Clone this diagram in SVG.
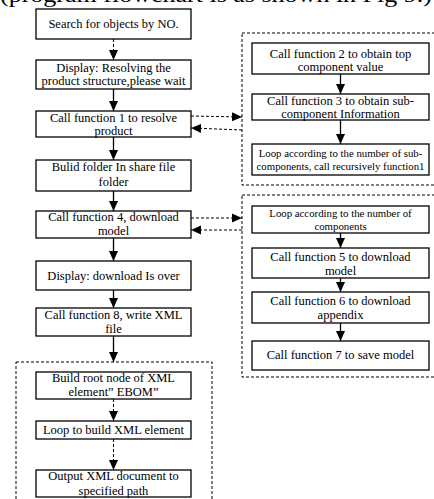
<svg xmlns="http://www.w3.org/2000/svg" width="434" height="499" viewBox="0 0 434 499">
  <defs>
    <style>
      .box { fill: #fff; stroke: #000; stroke-width: 1.3; }
      .grp { fill: none; stroke: #000; stroke-width: 1; stroke-dasharray: 3 2; }
      .lnk { fill: none; stroke: #000; stroke-width: 1.3; }
      .dsh { fill: none; stroke: #000; stroke-width: 1; stroke-dasharray: 3 2; }
      .t, .s, .cap { font-family: 'Liberation Serif', 'Times New Roman', serif; fill: #000; text-anchor: middle; }
      .t { font-size: 12.5px; }
      .s { font-size: 10.8px; }
      .cap { font-size: 20px; }
    </style>
    <marker id="ah" markerUnits="userSpaceOnUse" markerWidth="10" markerHeight="10" refX="10" refY="5" orient="auto">
      <path d="M0,0.5 L10,5 L0,9.5 z" fill="#000"/>
    </marker>
  </defs>

  <!-- caption line running off the top edge -->
  <text class="cap" x="216" y="2" textLength="432" lengthAdjust="spacingAndGlyphs">(program flowchart is as shown in Fig 9.)</text>

  <!-- dashed group frames -->
  <g id="groups">
    <rect class="grp" x="242" y="33" width="200" height="152"/>
    <rect class="grp" x="242" y="195" width="200" height="182"/>
    <rect class="grp" x="16" y="362" width="196" height="145"/>
  </g>

  <!-- connectors -->
  <g id="connectors">
    <line class="dsh" x1="113.5" y1="39" x2="113.5" y2="60" marker-end="url(#ah)"/>
    <line class="lnk" x1="113.5" y1="89" x2="113.5" y2="111" marker-end="url(#ah)"/>
    <line class="lnk" x1="113.5" y1="137" x2="113.5" y2="160" marker-end="url(#ah)"/>
    <line class="lnk" x1="113.5" y1="191" x2="113.5" y2="211" marker-end="url(#ah)"/>
    <line class="lnk" x1="113.5" y1="238" x2="113.5" y2="261" marker-end="url(#ah)"/>
    <line class="lnk" x1="113.5" y1="290" x2="113.5" y2="308" marker-end="url(#ah)"/>
    <line class="lnk" x1="113.5" y1="336" x2="113.5" y2="362" marker-end="url(#ah)"/>
    <line class="dsh" x1="113.5" y1="399" x2="113.5" y2="421" marker-end="url(#ah)"/>
    <line class="dsh" x1="113.5" y1="439" x2="113.5" y2="470" marker-end="url(#ah)"/>

    <line class="lnk" x1="340.5" y1="74" x2="340.5" y2="94" marker-end="url(#ah)"/>
    <line class="lnk" x1="340.5" y1="120" x2="340.5" y2="144" marker-end="url(#ah)"/>
    <line class="lnk" x1="340.5" y1="233" x2="340.5" y2="248" marker-end="url(#ah)"/>
    <line class="lnk" x1="340.5" y1="278" x2="340.5" y2="292" marker-end="url(#ah)"/>
    <line class="lnk" x1="340.5" y1="323" x2="340.5" y2="341" marker-end="url(#ah)"/>

    <line class="dsh" x1="191" y1="116" x2="242" y2="117" marker-end="url(#ah)"/>
    <line class="dsh" x1="242" y1="130" x2="191" y2="128" marker-end="url(#ah)"/>
    <line class="dsh" x1="191" y1="218" x2="242" y2="218" marker-end="url(#ah)"/>
    <line class="dsh" x1="242" y1="230" x2="191" y2="230" marker-end="url(#ah)"/>
  </g>

  <!-- main column -->
  <g id="search">
    <rect class="box" x="36" y="9" width="155" height="30"/>
    <text class="t" x="113.5" y="28">Search for objects by NO.</text>
  </g>
  <g id="display-resolving">
    <rect class="box" x="36" y="60" width="155" height="29"/>
    <text class="t" x="113.5" y="72">Display: Resolving the</text>
    <text class="t" x="113.5" y="85">product structure,please wait</text>
  </g>
  <g id="call-f1">
    <rect class="box" x="36" y="111" width="155" height="26"/>
    <text class="t" x="113.5" y="122">Call function 1 to resolve</text>
    <text class="t" x="113.5" y="135">product</text>
  </g>
  <g id="build-folder">
    <rect class="box" x="36" y="160" width="155" height="31"/>
    <text class="t" x="113.5" y="171">Bulid folder In share file</text>
    <text class="t" x="113.5" y="186">folder</text>
  </g>
  <g id="call-f4">
    <rect class="box" x="36" y="211" width="155" height="27"/>
    <text class="t" x="113.5" y="221">Call function 4, download</text>
    <text class="t" x="113.5" y="235">model</text>
  </g>
  <g id="display-done">
    <rect class="box" x="36" y="261" width="155" height="29"/>
    <text class="t" x="113.5" y="280">Display: download Is over</text>
  </g>
  <g id="call-f8">
    <rect class="box" x="36" y="308" width="155" height="28"/>
    <text class="t" x="113.5" y="319">Call function 8, write XML</text>
    <text class="t" x="113.5" y="333">file</text>
  </g>

  <!-- XML output steps -->
  <g id="xml-root">
    <rect class="box" x="36" y="372" width="155" height="27"/>
    <text class="t" x="113.5" y="382">Build root node of XML</text>
    <text class="t" x="113.5" y="396">element” EBOM”</text>
  </g>
  <g id="xml-loop">
    <rect class="box" x="36" y="421" width="155" height="18"/>
    <text class="t" x="113.5" y="434">Loop to build XML element</text>
  </g>
  <g id="xml-output">
    <rect class="box" x="36" y="470" width="155" height="27"/>
    <text class="t" x="113.5" y="480">Output XML document to</text>
    <text class="t" x="113.5" y="495">specified path</text>
  </g>

  <!-- function 1 detail -->
  <g id="call-f2">
    <rect class="box" x="252" y="43" width="177" height="31"/>
    <text class="t" x="340.5" y="58">Call function 2 to obtain top</text>
    <text class="t" x="340.5" y="71">component value</text>
  </g>
  <g id="call-f3">
    <rect class="box" x="252" y="94" width="177" height="26"/>
    <text class="t" x="340.5" y="105">Call function 3 to obtain sub-</text>
    <text class="t" x="340.5" y="118">component Information</text>
  </g>
  <g id="loop-sub">
    <rect class="box" x="252" y="144" width="177" height="31"/>
    <text class="s" x="340.5" y="157">Loop according to the number of sub-</text>
    <text class="s" x="340.5" y="170">components, call recursively function1</text>
  </g>

  <!-- function 4 detail -->
  <g id="loop-comp">
    <rect class="box" x="252" y="206" width="177" height="27"/>
    <text class="s" x="340.5" y="217">Loop according to the number of</text>
    <text class="s" x="340.5" y="230">components</text>
  </g>
  <g id="call-f5">
    <rect class="box" x="252" y="248" width="177" height="30"/>
    <text class="t" x="340.5" y="261">Call function 5 to download</text>
    <text class="t" x="340.5" y="275">model</text>
  </g>
  <g id="call-f6">
    <rect class="box" x="252" y="292" width="177" height="31"/>
    <text class="t" x="340.5" y="305">Call function 6 to download</text>
    <text class="t" x="340.5" y="319">appendix</text>
  </g>
  <g id="call-f7">
    <rect class="box" x="252" y="341" width="177" height="29"/>
    <text class="t" x="340.5" y="359">Call function 7 to save model</text>
  </g>
</svg>
